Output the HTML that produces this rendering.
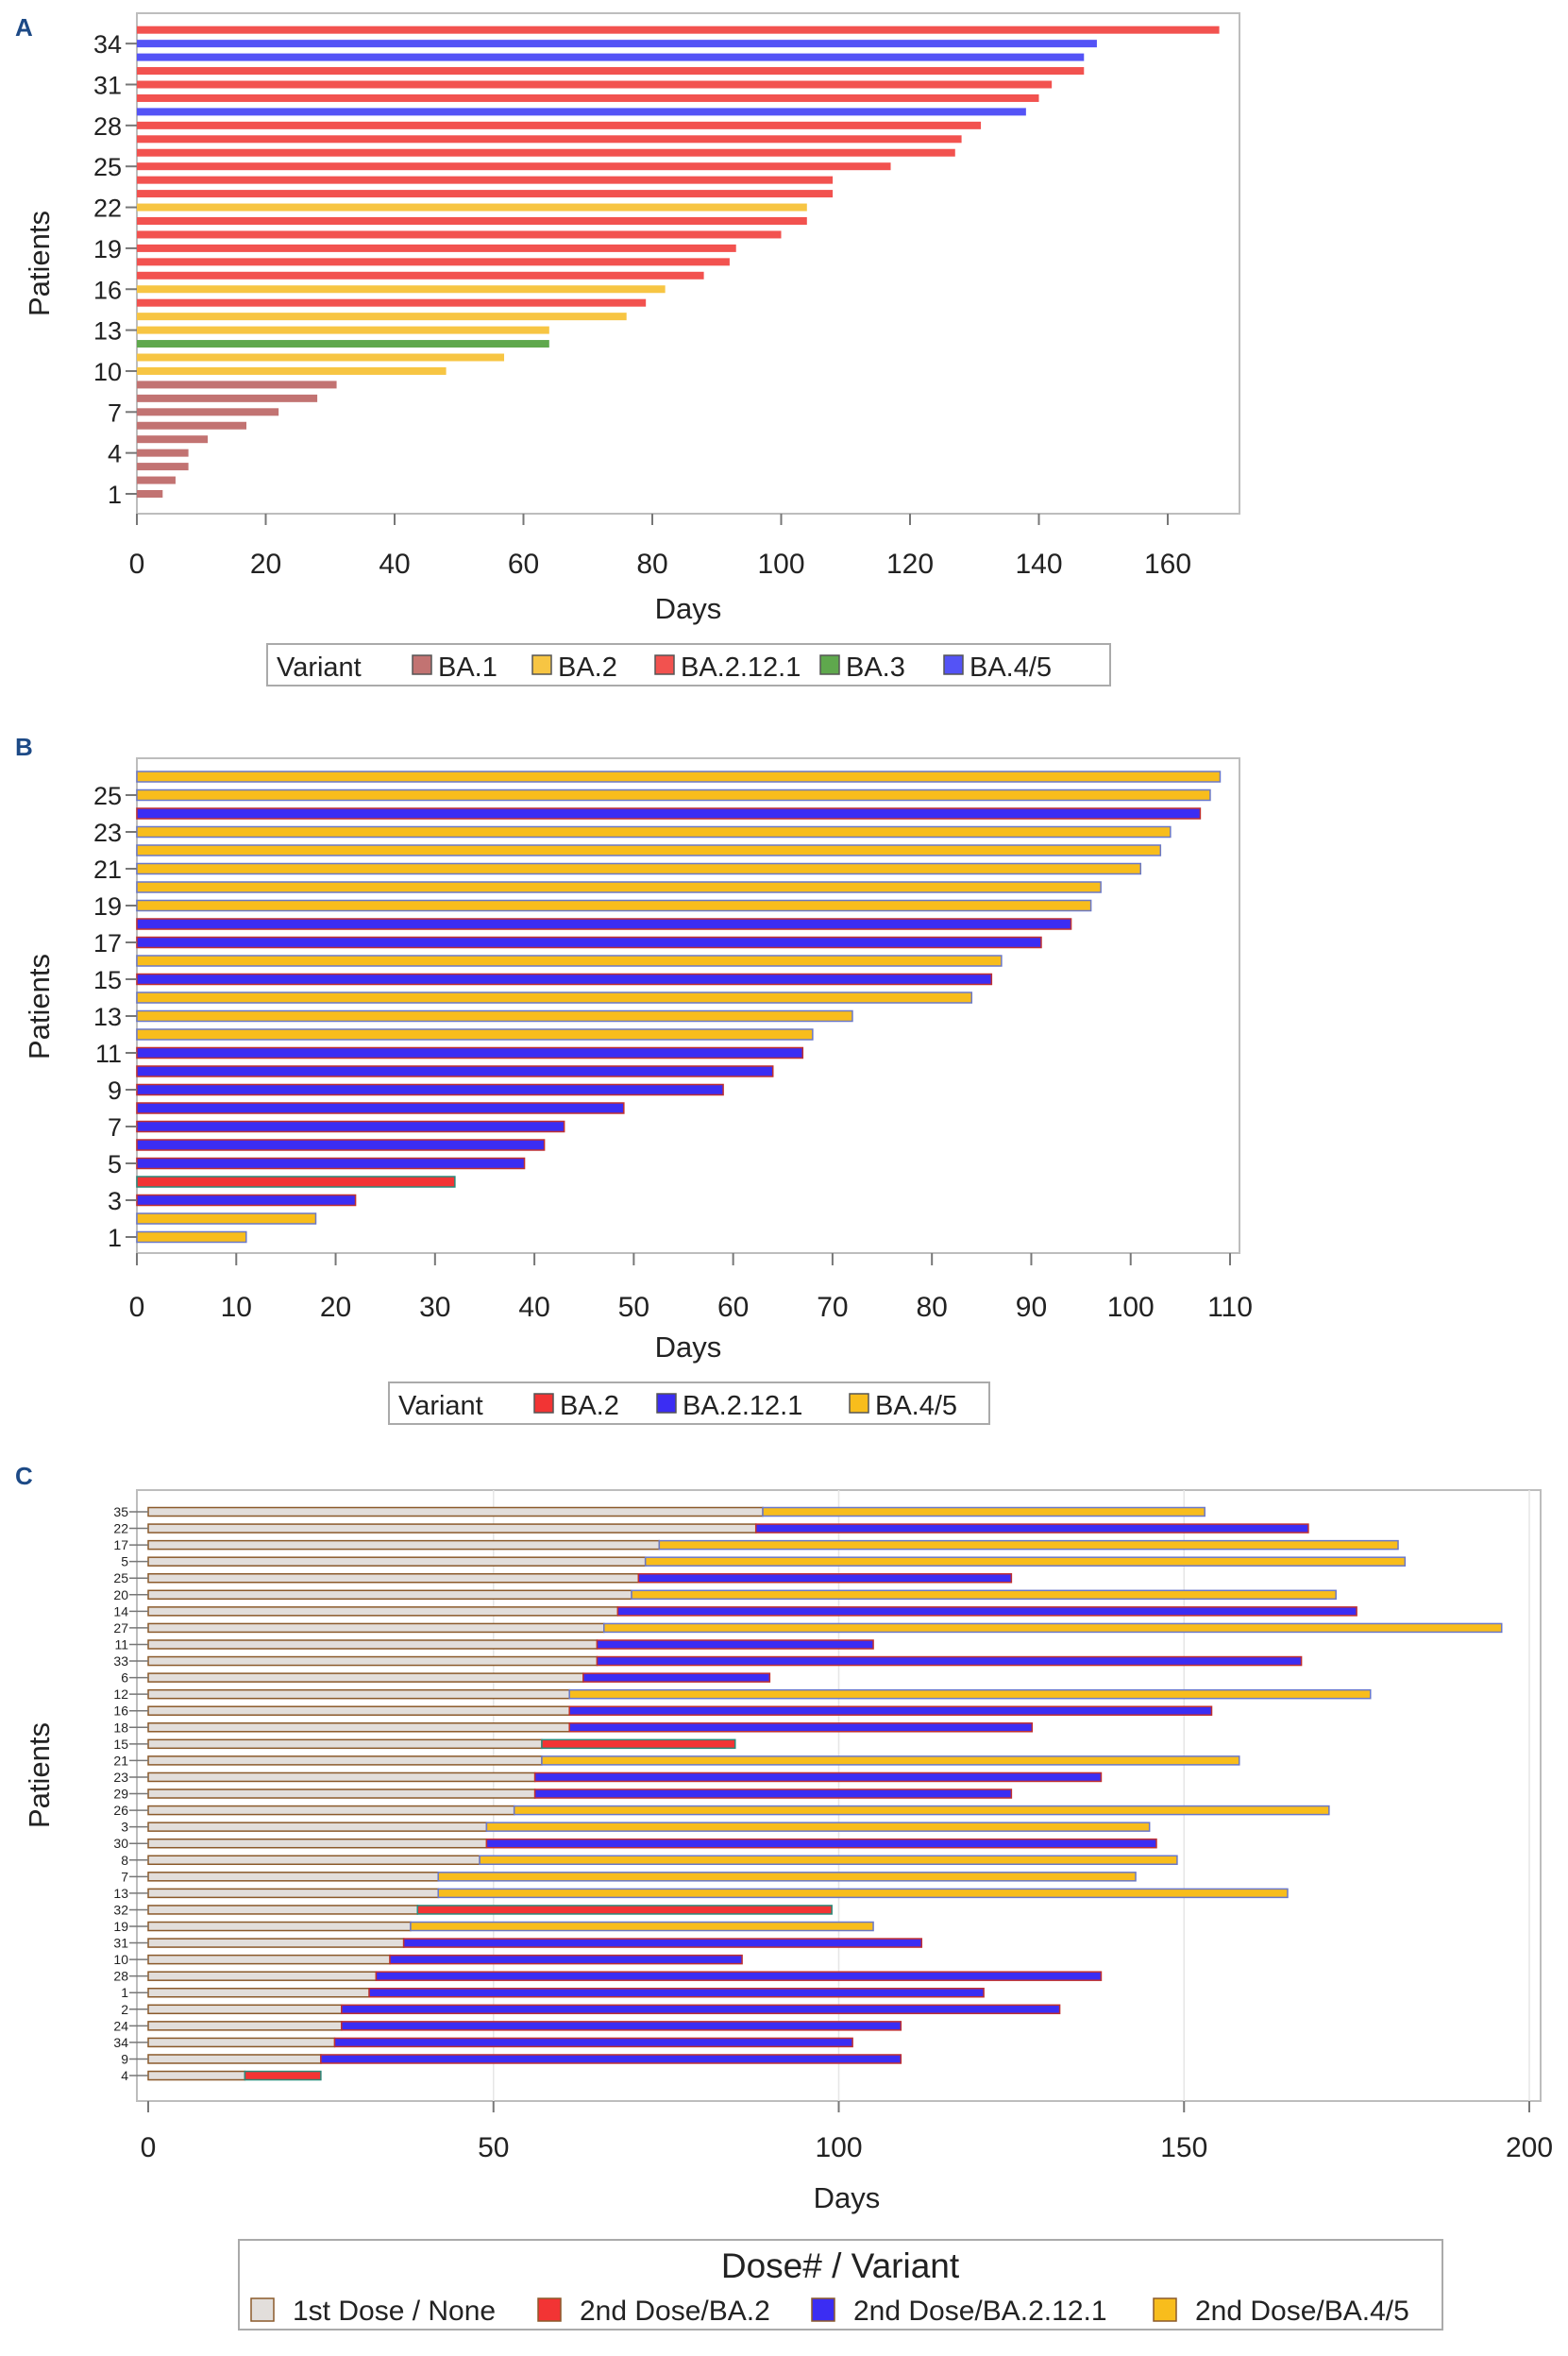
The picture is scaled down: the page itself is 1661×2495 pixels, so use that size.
<!DOCTYPE html>
<html><head><meta charset="utf-8"><style>
html,body{margin:0;padding:0;background:#fff}
svg{display:block;font-family:"Liberation Sans","DejaVu Sans",sans-serif}
</style></head><body>
<svg id="chart" width="1661" height="2495" viewBox="0 0 1661 2495" xmlns="http://www.w3.org/2000/svg"></svg>
<script>
// Panel A data (patients 1..35)
const aDays = [4,6,8,8,11,17,22,28,31,48,57,64,64,76,79,82,88,92,93,100,104,104,108,108,117,127,128,131,138,140,142,147,147,149,168];
const aVariant = ["BA.1","BA.1","BA.1","BA.1","BA.1","BA.1","BA.1","BA.1","BA.1","BA.2","BA.2","BA.3","BA.2","BA.2","BA.2.12.1","BA.2","BA.2.12.1","BA.2.12.1","BA.2.12.1","BA.2.12.1","BA.2.12.1","BA.2","BA.2.12.1","BA.2.12.1","BA.2.12.1","BA.2.12.1","BA.2.12.1","BA.2.12.1","BA.4/5","BA.2.12.1","BA.2.12.1","BA.2.12.1","BA.4/5","BA.4/5","BA.2.12.1"];
const aTicks = [0,20,40,60,80,100,120,140,160];
const aYTicks = [1,4,7,10,13,16,19,22,25,28,31,34];
const aLegend = ["BA.1","BA.2","BA.2.12.1","BA.3","BA.4/5"];
// Panel B data (patients 1..26)
const bDays = [11,18,22,32,39,41,43,49,59,64,67,68,72,84,86,87,91,94,96,97,101,103,104,107,108,109];
const bVariant = ["BA.4/5","BA.4/5","BA.2.12.1","BA.2","BA.2.12.1","BA.2.12.1","BA.2.12.1","BA.2.12.1","BA.2.12.1","BA.2.12.1","BA.2.12.1","BA.4/5","BA.4/5","BA.4/5","BA.2.12.1","BA.4/5","BA.2.12.1","BA.2.12.1","BA.4/5","BA.4/5","BA.4/5","BA.4/5","BA.4/5","BA.2.12.1","BA.4/5","BA.4/5"];
const bTicks = [0,10,20,30,40,50,60,70,80,90,100,110];
const bYTicks = [1,3,5,7,9,11,13,15,17,19,21,23,25];
const bLegend = ["BA.2","BA.2.12.1","BA.4/5"];
// Panel C data (top to bottom)
const cPatients = ["35","22","17","5","25","20","14","27","11","33","6","12","16","18","15","21","23","29","26","3","30","8","7","13","32","19","31","10","28","1","2","24","34","9","4"];
const cFirstDose = [89,88,74,72,71,70,68,66,65,65,63,61,61,61,57,57,56,56,53,49,49,48,42,42,39,38,37,35,33,32,28,28,27,25,14];
const cTotal = [153,168,181,182,125,172,175,196,105,167,90,177,154,128,85,158,138,125,171,145,146,149,143,165,99,105,112,86,138,121,132,109,102,109,25];
const cVariant = ["BA.4/5","BA.2.12.1","BA.4/5","BA.4/5","BA.2.12.1","BA.4/5","BA.2.12.1","BA.4/5","BA.2.12.1","BA.2.12.1","BA.2.12.1","BA.4/5","BA.2.12.1","BA.2.12.1","BA.2","BA.4/5","BA.2.12.1","BA.2.12.1","BA.4/5","BA.4/5","BA.2.12.1","BA.4/5","BA.4/5","BA.4/5","BA.2","BA.4/5","BA.2.12.1","BA.2.12.1","BA.2.12.1","BA.2.12.1","BA.2.12.1","BA.2.12.1","BA.2.12.1","BA.2.12.1","BA.2"];
const cTicks = [0,50,100,150,200];
const cLegend = ["1st Dose / None","2nd Dose/BA.2","2nd Dose/BA.2.12.1","2nd Dose/BA.4/5"];

const NS="http://www.w3.org/2000/svg";
const svg=document.getElementById('chart');
function mk(tag,attrs,parent,text){const e=document.createElementNS(NS,tag);for(const k in attrs)e.setAttribute(k,attrs[k]);if(text!==undefined)e.textContent=text;(parent||svg).appendChild(e);return e;}

const colA={"BA.1":"#c27372","BA.2":"#f7c543","BA.2.12.1":"#f2524f","BA.3":"#5fa84d","BA.4/5":"#5453f6"};
const fillB={"BA.2":"#f23434","BA.2.12.1":"#3b2df3","BA.4/5":"#f8bd1c"};
const strokeB={"BA.2":"#2a8a7a","BA.2.12.1":"#c03030","BA.4/5":"#6a78c8"};

function panelLabel(t,x,y){const e=mk('text',{x:x,y:y,'font-size':26,'font-weight':'bold',fill:'#1d4a86'},svg,t);

}

// ---------- Panel A ----------
panelLabel('A',16,38);
{
const L=145,R=1313,T=14,B=544,x0=145,k=(1237-145)/160;
const y=i=>523-(i-1)*14.45;
const g=mk('g',{});
const fr=mk('rect',{x:L,y:T,width:R-L,height:B-T,fill:'#fff',stroke:'#bdbdbd','stroke-width':2},g);

aDays.forEach((d,i)=>{const r=mk('rect',{x:x0,y:y(i+1)-4,width:d*k,height:8,fill:colA[aVariant[i]]},g);
});
aTicks.forEach(t=>{const X=x0+t*k;mk('line',{x1:X,x2:X,y1:B,y2:B+12,stroke:'#777','stroke-width':2},g);
const tl=mk('text',{x:X,y:607,'font-size':30,'text-anchor':'middle',fill:'#222'},g,t);});
aYTicks.forEach(t=>{const Y=y(t);mk('line',{x1:L-12,x2:L,y1:Y,y2:Y,stroke:'#777','stroke-width':2},g);
const tl=mk('text',{x:L-16,y:Y+10,'font-size':27,'text-anchor':'end',fill:'#222'},g,t);});
const xt=mk('text',{x:729,y:655,'font-size':31,'text-anchor':'middle',fill:'#222'},g,'Days');
const yt=mk('text',{x:0,y:0,'font-size':31,'text-anchor':'middle',fill:'#222',transform:'translate(52,279) rotate(-90)'},g,'Patients');
const lg=mk('g',{});
mk('rect',{x:283,y:682,width:893,height:44,fill:'#fff',stroke:'#aaa','stroke-width':2},lg);
mk('text',{x:293,y:716,'font-size':29,fill:'#222'},lg,'Variant');
const lx=[437,564,694,869,1000];
aLegend.forEach((v,i)=>{const s=mk('rect',{x:lx[i],y:694,width:20,height:20,fill:colA[v],stroke:'#555','stroke-width':1.5},lg);

mk('text',{x:lx[i]+27,y:716,'font-size':29,fill:'#222'},lg,v);});
}

// ---------- Panel B ----------
panelLabel('B',16,800);
{
const L=145,R=1313,T=803,B=1327,x0=145,k=(1303-145)/110;
const y=i=>1310-(i-1)*19.5;
const g=mk('g',{});
const fr=mk('rect',{x:L,y:T,width:R-L,height:B-T,fill:'#fff',stroke:'#bdbdbd','stroke-width':2},g);

bDays.forEach((d,i)=>{const r=mk('rect',{x:x0,y:y(i+1)-5.5,width:d*k,height:11,fill:fillB[bVariant[i]],stroke:strokeB[bVariant[i]],'stroke-width':1.5},g);
});
bTicks.forEach(t=>{const X=x0+t*k;mk('line',{x1:X,x2:X,y1:B,y2:B+13,stroke:'#777','stroke-width':2},g);
const tl=mk('text',{x:X,y:1394,'font-size':30,'text-anchor':'middle',fill:'#222'},g,t);});
bYTicks.forEach(t=>{const Y=y(t);mk('line',{x1:L-12,x2:L,y1:Y,y2:Y,stroke:'#777','stroke-width':2},g);
const tl=mk('text',{x:L-16,y:Y+10,'font-size':27,'text-anchor':'end',fill:'#222'},g,t);});
const xt=mk('text',{x:729,y:1437,'font-size':31,'text-anchor':'middle',fill:'#222'},g,'Days');
const yt=mk('text',{x:0,y:0,'font-size':31,'text-anchor':'middle',fill:'#222',transform:'translate(52,1066) rotate(-90)'},g,'Patients');
const lg=mk('g',{});
mk('rect',{x:412,y:1464,width:636,height:44,fill:'#fff',stroke:'#aaa','stroke-width':2},lg);
mk('text',{x:422,y:1498,'font-size':29,fill:'#222'},lg,'Variant');
const lx=[566,696,900];
bLegend.forEach((v,i)=>{const s=mk('rect',{x:lx[i],y:1476,width:20,height:20,fill:fillB[v],stroke:'#555','stroke-width':1.5},lg);

mk('text',{x:lx[i]+27,y:1498,'font-size':29,fill:'#222'},lg,v);});
}

// ---------- Panel C ----------
panelLabel('C',16,1572);
{
const L=145,R=1632,T=1578,B=2225,x0=157,k=(1620-157)/200;
const y=i=>1601+i*17.56;
const g=mk('g',{});
const fr=mk('rect',{x:L,y:T,width:R-L,height:B-T,fill:'#fff',stroke:'#bdbdbd','stroke-width':2},g);

cTicks.forEach(t=>{const X=x0+t*k;if(t>0){const gl=mk('line',{x1:X,x2:X,y1:T,y2:B,stroke:'#e6e6e6','stroke-width':1.5},g);}
mk('line',{x1:X,x2:X,y1:B,y2:B+12,stroke:'#777','stroke-width':2},g);
const tl=mk('text',{x:X,y:2284,'font-size':30,'text-anchor':'middle',fill:'#222'},g,t);});
cPatients.forEach((p,i)=>{const Y=y(i);
const a=mk('rect',{x:x0,y:Y-4.5,width:cFirstDose[i]*k,height:9,fill:'#e2dedb',stroke:'#8b5a2b','stroke-width':1.5},g);

const b=mk('rect',{x:x0+cFirstDose[i]*k,y:Y-4.5,width:(cTotal[i]-cFirstDose[i])*k,height:9,fill:fillB[cVariant[i]],stroke:strokeB[cVariant[i]],'stroke-width':1.5},g);

mk('line',{x1:L-8,x2:L+12,y1:Y,y2:Y,stroke:'#777','stroke-width':1.5},g);
const tl=mk('text',{x:L-9,y:Y+5,'font-size':14,'text-anchor':'end',fill:'#222'},g,p);});
const xt=mk('text',{x:897,y:2338,'font-size':31,'text-anchor':'middle',fill:'#222'},g,'Days');
const yt=mk('text',{x:0,y:0,'font-size':31,'text-anchor':'middle',fill:'#222',transform:'translate(52,1880) rotate(-90)'},g,'Patients');
const lg=mk('g',{});
mk('rect',{x:253,y:2372,width:1275,height:95,fill:'#fff',stroke:'#aaa','stroke-width':2},lg);
mk('text',{x:890,y:2412,'font-size':37,'text-anchor':'middle',fill:'#222'},lg,'Dose# / Variant');
const lf=['#e2dedb','#f23434','#3b2df3','#f8bd1c'];const lx=[266,570,860,1222];
cLegend.forEach((v,i)=>{const s=mk('rect',{x:lx[i],y:2434,width:24,height:24,fill:lf[i],stroke:'#8b5a2b','stroke-width':1.5},lg);

mk('text',{x:lx[i]+44,y:2457,'font-size':30,fill:'#222'},lg,v);});
}
</script>
</body></html>
